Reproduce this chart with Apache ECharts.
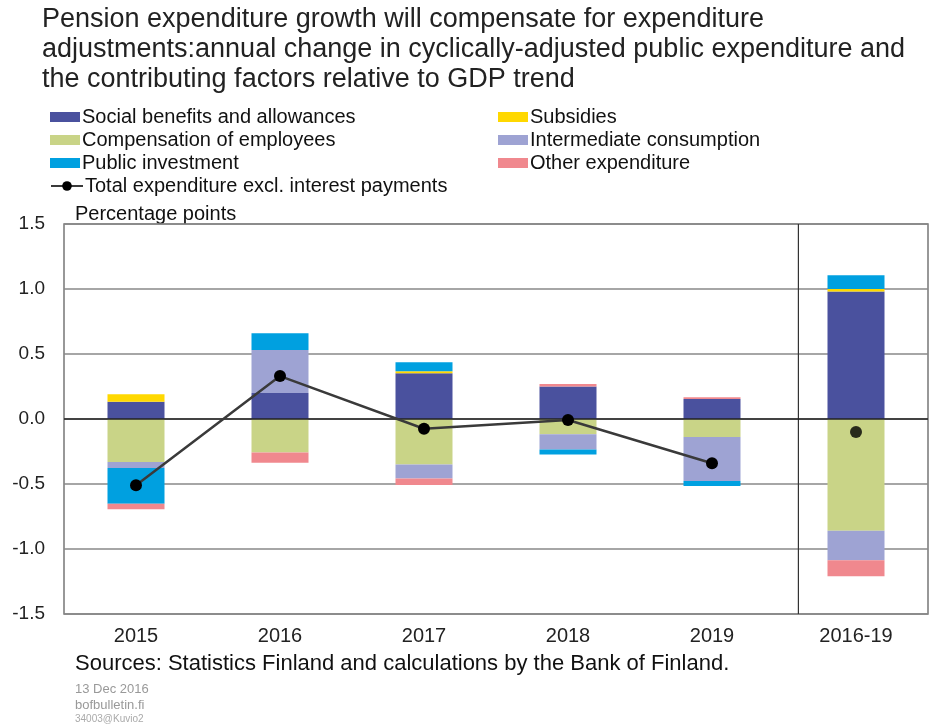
<!DOCTYPE html>
<html>
<head>
<meta charset="utf-8">
<script src="https://cdn.jsdelivr.net/npm/echarts@6/dist/echarts.min.js"></script>
<style>html,body{margin:0;padding:0;background:#fff}#c{width:933px;height:724px}</style>
</head>
<body>
<div id="c"></div>
<script>
var categories = ['2015', '2016', '2017', '2018', '2019', '2016-19'];
var social = [0.133, 0.20, 0.352, 0.25, 0.154, 0.98];
var compensation = [-0.33, -0.257, -0.35, -0.118, -0.139, -0.86];
var subsidies = [0.057, 0, 0.015, 0, 0, 0.02];
var intermediate = [-0.046, 0.33, -0.108, -0.116, -0.337, -0.226];
var investment = [-0.275, 0.13, 0.07, -0.04, -0.04, 0.105];
var other = [-0.044, -0.08, -0.05, 0.02, 0.013, -0.123];
var total = [-0.51, 0.33, -0.075, -0.008, -0.34, null];
var totalPeriod = [null, null, null, null, null, -0.10];
var yTicks = [-1.5, 1.5, 0.5];
var separatorPos = 5.1;

var FONT = '"Liberation Sans", Arial, sans-serif';
var colors = {
  social: '#4a519e', compensation: '#c9d487', subsidies: '#ffd800',
  intermediate: '#9ea3d3', investment: '#00a0e0', other: '#f0888e'
};
var names = {
  social: 'Social benefits and allowances', compensation: 'Compensation of employees',
  subsidies: 'Subsidies', intermediate: 'Intermediate consumption',
  investment: 'Public investment', other: 'Other expenditure',
  total: 'Total expenditure excl. interest payments'
};
function bar(key, data) {
  return { name: names[key], type: 'bar', stack: 'a', data: data, barWidth: 57,
    itemStyle: { color: colors[key] }, z: 2 };
}
var legendText = { fontFamily: FONT, fontSize: 20, color: '#111', padding: [0, 0, 0, -3] };
function leg(key, left, top) {
  return { data: [{ name: names[key], icon: 'rect' }], left: left, top: top,
    itemWidth: 30, itemHeight: 10, itemGap: 0, padding: 0, textStyle: legendText,
    selectedMode: false };
}

var chart = echarts.init(document.getElementById('c'));
chart.setOption({
  animation: false,
  backgroundColor: '#fff',
  title: {
    text: 'Pension expenditure growth will compensate for expenditure\nadjustments:annual change in cyclically-adjusted public expenditure and\nthe contributing factors relative to GDP trend',
    left: 42, top: 5, padding: 0,
    textStyle: { fontFamily: FONT, fontSize: 27, fontWeight: 'normal', color: '#222', lineHeight: 30 }
  },
  legend: [
    leg('social', 50, 107), leg('subsidies', 498, 107),
    leg('compensation', 50, 130), leg('intermediate', 498, 130),
    leg('investment', 50, 153), leg('other', 498, 153),
    { data: [names.total], left: 50, top: 176, itemWidth: 32, itemHeight: 12, padding: 0,
      textStyle: legendText, selectedMode: false }
  ],
  grid: { left: 64, right: 5, top: 224, bottom: 110, show: true, borderColor: '#777', borderWidth: 1.5, containLabel: false },
  xAxis: [{
    type: 'category', data: categories,
    axisLine: { show: false }, axisTick: { show: false },
    axisLabel: { fontFamily: FONT, fontSize: 20, color: '#222', margin: 12 }
  }, {
    type: 'value', min: 0, max: categories.length, show: false
  }],
  yAxis: {
    type: 'value', min: yTicks[0], max: yTicks[1], interval: yTicks[2],
    axisLine: { show: false }, axisTick: { show: false },
    axisLabel: { fontFamily: FONT, fontSize: 19, color: '#222', margin: 19,
      formatter: function (v) { return v.toFixed(1); } },
    splitLine: { lineStyle: { color: '#888', width: 1.5 } }
  },
  graphic: [
    { type: 'text', left: 75, top: 204, style: { text: 'Percentage points', font: '20px ' + FONT, fill: '#111' } },
    { type: 'text', left: 75, top: 653, style: { text: 'Sources: Statistics Finland and calculations by the Bank of Finland.', font: '22px ' + FONT, fill: '#111' } },
    { type: 'text', left: 75, top: 683, style: { text: '13 Dec 2016', font: '13px ' + FONT, fill: '#999' } },
    { type: 'text', left: 75, top: 699, style: { text: 'bofbulletin.fi', font: '13px ' + FONT, fill: '#999' } },
    { type: 'text', left: 75, top: 714, style: { text: '34003@Kuvio2', font: '10px ' + FONT, fill: '#aaa' } }
  ],
  series: [
    bar('social', social),
    bar('compensation', compensation),
    bar('subsidies', subsidies),
    bar('intermediate', intermediate),
    bar('investment', investment),
    bar('other', other),
    {
      name: 'zero', type: 'line', data: [], silent: true,
      markLine: { silent: true, symbol: 'none', label: { show: false },
        lineStyle: { color: '#222', width: 1.5, type: 'solid' }, data: [{ yAxis: 0 }] }, z: 3
    },
    {
      name: 'sep', type: 'line', xAxisIndex: 1, silent: true, symbol: 'none',
      data: [[separatorPos, yTicks[0]], [separatorPos, yTicks[1]]],
      lineStyle: { color: '#333', width: 1.2 }, z: 3
    },
    {
      name: names.total, type: 'line', data: total, symbol: 'circle', symbolSize: 12,
      itemStyle: { color: '#000' }, lineStyle: { color: '#3a3a3a', width: 2.5 }, z: 5
    },
    {
      name: names.total, type: 'scatter', data: totalPeriod, symbol: 'circle', symbolSize: 12,
      itemStyle: { color: '#000' }, z: 5
    }
  ]
});
</script>
</body>
</html>
